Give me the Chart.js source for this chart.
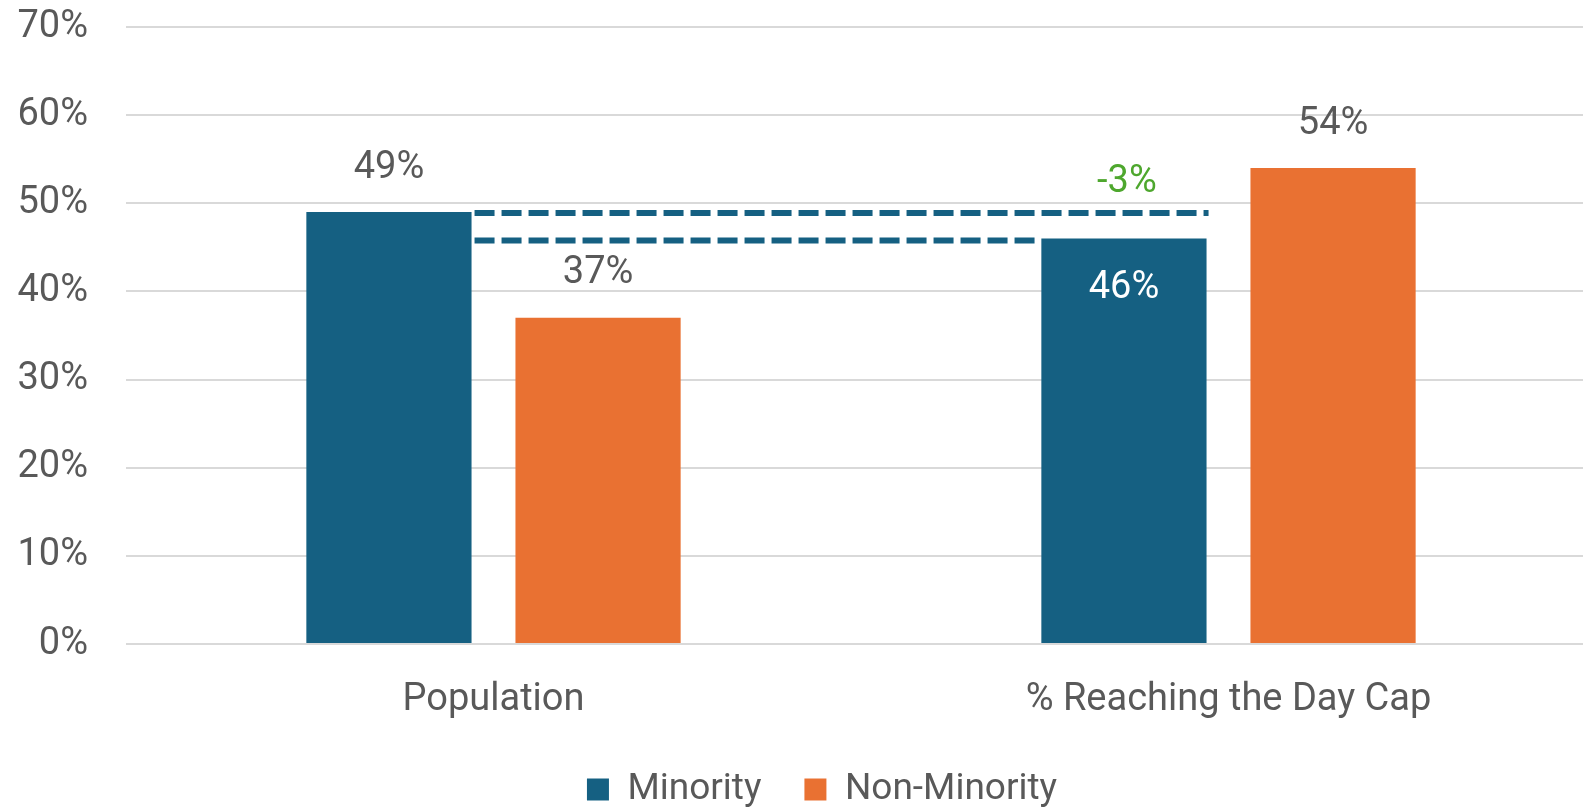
<!DOCTYPE html>
<html>
<head>
<meta charset="utf-8">
<script src="https://cdn.jsdelivr.net/npm/chart.js@4.4.1/dist/chart.umd.min.js"></script>
<style>
  html, body { margin: 0; padding: 0; background: #fff; overflow: hidden; }
  #wrap { width: 1596px; height: 811px; }
</style>
</head>
<body>
<div id="wrap"><canvas id="gapChart"></canvas></div>
<script>
const categories = ['Population', '% Reaching the Day Cap'];
const minority = [49, 46];
const nonMinority = [37, 54];
const yTicks = [0, 10, 20, 30, 40, 50, 60, 70];

const BLUE = '#156082';
const ORANGE = '#E97132';
const GREEN = '#4EA72E';
const TEXT = '#595959';
const FONT = 'Roboto, "Liberation Sans", sans-serif';

// value labels above bars (inside for the second minority bar) plus the gap markers
const annotate = {
    id: 'annotate',
    afterLayout(chart) {
        // nudge the legend a little to the right
        chart.legend.left += 48;
    },
    afterDatasetsDraw(chart) {
        const ctx = chart.ctx;
        const y = chart.scales.y;
        const blue = chart.getDatasetMeta(0).data;
        const orange = chart.getDatasetMeta(1).data;

        ctx.save();
        ctx.font = '38px ' + FONT;
        ctx.textAlign = 'center';
        ctx.textBaseline = 'middle';

        ctx.fillStyle = TEXT;
        ctx.fillText(minority[0] + '%', blue[0].x, blue[0].y - 44);
        ctx.fillText(nonMinority[0] + '%', orange[0].x, orange[0].y - 44);
        ctx.fillText(nonMinority[1] + '%', orange[1].x, orange[1].y - 44);
        ctx.fillStyle = '#ffffff';
        ctx.fillText(minority[1] + '%', blue[1].x, blue[1].y + 50);

        // dashed lines from the population bar across to the day cap bar
        const lw = 6;
        ctx.strokeStyle = BLUE;
        ctx.lineWidth = lw;
        ctx.setLineDash([20, 7]);
        const x0 = blue[0].x + blue[0].width / 2 + 3;
        const yTop = y.getPixelForValue(minority[0]) + 1;
        const yLow = y.getPixelForValue(minority[1]) + 2;
        ctx.beginPath();
        ctx.moveTo(x0, yTop);
        ctx.lineTo(blue[1].x + blue[1].width / 2 + 2, yTop);
        ctx.moveTo(x0, yLow);
        ctx.lineTo(blue[1].x - blue[1].width / 2, yLow);
        ctx.stroke();

        const diff = minority[1] - minority[0];
        ctx.fillStyle = GREEN;
        ctx.fillText(diff + '%', blue[1].x + 3, yTop - 31);
        ctx.restore();
    }
};

new Chart(document.getElementById('gapChart'), {
    type: 'bar',
    data: {
        labels: categories,
        datasets: [
            { label: 'Minority', data: minority, backgroundColor: BLUE },
            { label: 'Non-Minority', data: nonMinority, backgroundColor: ORANGE }
        ]
    },
    options: {
        responsive: true,
        maintainAspectRatio: false,
        animation: false,
        layout: { padding: { top: 27, bottom: -7 } },
        datasets: {
            bar: { categoryPercentage: 0.569, barPercentage: 0.79 }
        },
        scales: {
            x: {
                grid: { display: false },
                border: { display: false },
                ticks: { color: TEXT, font: { family: FONT, size: 38 }, padding: 26 },
                afterFit(scale) { scale.height = 84; }
            },
            y: {
                min: 0,
                max: 70,
                afterBuildTicks(scale) { scale.ticks = yTicks.map(v => ({ value: v })); },
                grid: { color: '#d9d9d9', lineWidth: 2, drawTicks: false },
                border: { display: false },
                ticks: {
                    color: TEXT,
                    font: { family: FONT, size: 38 },
                    padding: 38,
                    callback: v => v + '%'
                },
                afterFit(scale) {
                    scale.width = 126;
                    // let the top label hang over the edge instead of pushing the plot down
                    scale.paddingTop = 0;
                    scale.paddingBottom = 0;
                }
            }
        },
        plugins: {
            tooltip: { enabled: false },
            legend: {
                position: 'bottom',
                labels: {
                    color: TEXT,
                    font: { family: FONT, size: 37 },
                    boxWidth: 22,
                    boxHeight: 22,
                    padding: 43
                }
            }
        }
    },
    plugins: [annotate]
});
</script>
</body>
</html>
